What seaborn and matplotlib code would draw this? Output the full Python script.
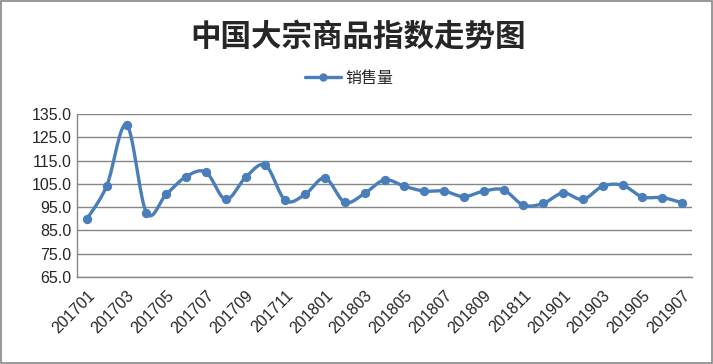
import numpy as np
import pandas as pd
import seaborn as sns
import matplotlib.pyplot as plt
from matplotlib.lines import Line2D
from matplotlib.patches import Rectangle

months = ['201701', '201702', '201703', '201704', '201705', '201706', '201707', '201708',
          '201709', '201710', '201711', '201712', '201801', '201802', '201803', '201804',
          '201805', '201806', '201807', '201808', '201809', '201810', '201811', '201812',
          '201901', '201902', '201903', '201904', '201905', '201906', '201907']
sales = [89.9, 104.2, 130.4, 92.6, 100.5, 108.1, 110.0, 98.3,
         107.8, 113.0, 97.9, 100.5, 107.5, 97.1, 100.9, 106.7,
         104.0, 101.9, 101.9, 99.5, 101.9, 102.4, 95.9, 96.6,
         101.1, 98.3, 104.0, 104.4, 99.4, 99.1, 96.9]
series_name = '销售量'
title = '中国大宗商品指数走势图'
yticks = [65.0, 75.0, 85.0, 95.0, 105.0, 115.0, 125.0, 135.0]

df = pd.DataFrame({'pos': np.arange(len(months)), 'value': sales})

# Excel style smooth line: bezier segments with catmull-rom control points
def smooth_curve(x, y, n=20):
    x = np.asarray(x, float)
    y = np.asarray(y, float)
    xs, ys = [], []
    t = np.linspace(0, 1, n)
    for i in range(len(x) - 1):
        p0 = np.array([x[max(i - 1, 0)], y[max(i - 1, 0)]])
        p1 = np.array([x[i], y[i]])
        p2 = np.array([x[i + 1], y[i + 1]])
        p3 = np.array([x[min(i + 2, len(x) - 1)], y[min(i + 2, len(x) - 1)]])
        c1 = p1 + (p2 - p0) / 6
        c2 = p2 - (p3 - p1) / 6
        pts = ((1 - t) ** 3)[:, None] * p1 + (3 * (1 - t) ** 2 * t)[:, None] * c1 \
            + (3 * (1 - t) * t ** 2)[:, None] * c2 + (t ** 3)[:, None] * p2
        xs.extend(pts[:, 0])
        ys.extend(pts[:, 1])
    return pd.DataFrame({'pos': xs, 'value': ys})

curve = smooth_curve(df['pos'], df['value'])

sns.set_theme(style='white')
plt.rcParams['font.family'] = ['Liberation Sans', 'Noto Sans CJK SC', 'DejaVu Sans']

blue = '#4A7EBB'
grid_c = '#868686'

fig = plt.figure(figsize=(7.13, 3.64), dpi=100)
ax = fig.add_axes([77 / 713, 1 - 277 / 364, 615 / 713, 163 / 364])

sns.lineplot(data=curve, x='pos', y='value', color=blue, linewidth=2.4, ax=ax,
             sort=False, estimator=None)
sns.scatterplot(data=df, x='pos', y='value', color=blue, s=45, edgecolor=blue,
                linewidth=0, ax=ax, zorder=3)

ax.set_xlim(-0.5, len(months) - 0.5)
ax.set_ylim(65, 135)
ax.set_yticks(yticks)
ax.set_yticklabels([f'{v:.1f}' for v in yticks], fontsize=11.5)
ax.yaxis.grid(True, color=grid_c, linewidth=1)
ax.set_axisbelow(True)

pos = np.arange(len(months))
ax.set_xticks(pos[::2])
ax.set_xticklabels(months[::2], rotation=45, ha='right', rotation_mode='anchor',
                   fontsize=11.5)
ax.set_xticks(np.arange(-0.5, len(months)), minor=True)
ax.tick_params(axis='x', which='major', length=0, pad=8)
ax.tick_params(axis='x', which='minor', length=5, color=grid_c, width=1, direction='out')
ax.tick_params(axis='y', length=0, pad=4)
ax.set_xlabel('')
ax.set_ylabel('')

for side in ['top', 'right']:
    ax.spines[side].set_visible(False)
for side in ['left', 'bottom']:
    ax.spines[side].set_color(grid_c)
    ax.spines[side].set_linewidth(1)

fig.text(0.502, 1 - 37 / 364, title, ha='center', va='center', fontsize=22,
         fontweight='bold', family=['Noto Sans CJK SC', 'DejaVu Sans'])

handle = Line2D([], [], color=blue, linewidth=2.4, marker='o', markersize=5)
fig.legend([handle], [series_name], loc='center', bbox_to_anchor=(0.49, 1 - 78 / 364),
           frameon=False, fontsize=11.5, handlelength=2.2, handletextpad=0.3,
           prop={'family': ['Noto Sans CJK SC', 'DejaVu Sans'], 'size': 11.5})

fig.patches.append(Rectangle((0.001, 0.002), 0.997, 0.995, transform=fig.transFigure,
                             fill=False, edgecolor=grid_c, linewidth=1.2))

fig.savefig('out.png', dpi=100)
